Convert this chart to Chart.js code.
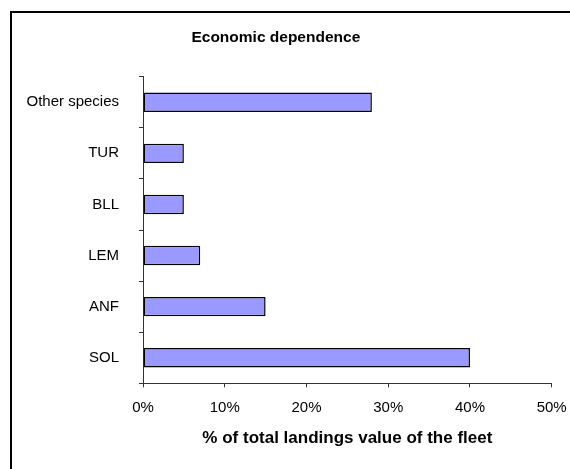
<!DOCTYPE html>
<html>
<head>
<meta charset="utf-8">
<script src="https://cdn.jsdelivr.net/npm/chart.js@4/dist/chart.umd.min.js"></script>
<style>
  body { margin: 0; background: #fff; }
  #wrap { position: relative; width: 570px; height: 469px; }
  #frame {
    position: absolute; left: 10px; top: 11px; right: -10px; bottom: -10px;
    border-left: 2px solid #000; border-top: 2px solid #000;
    pointer-events: none;
  }
</style>
</head>
<body>
<div id="wrap">
  <canvas id="chart"></canvas>
  <div id="frame"></div>
</div>
<script>
// Chart data
const categories = ['Other species', 'TUR', 'BLL', 'LEM', 'ANF', 'SOL'];
const shareValues = [28, 5, 5, 7, 15, 40];   // % of total landings value
const xTicks = [0, 10, 20, 30, 40, 50];

const font = 'Arial, "Liberation Sans", sans-serif';

const ctx = document.getElementById('chart').getContext('2d');
const chart = new Chart(ctx, {
  type: 'bar',
  data: {
    labels: categories,
    datasets: [{
      data: shareValues,
      backgroundColor: '#9999FF',
      borderColor: '#000',
      borderWidth: 1.5,
      borderSkipped: false,
      barPercentage: 0.38,
      categoryPercentage: 1
    }]
  },
  options: {
    indexAxis: 'y',
    responsive: true,
    maintainAspectRatio: false,
    animation: false,
    layout: { padding: { top: 18, right: 18.3, bottom: 0, left: 0 } },
    plugins: {
      legend: { display: false },
      tooltip: { enabled: false },
      title: {
        display: true,
        text: 'Economic dependence',
        color: '#000',
        font: { family: font, size: 15.5, weight: 'bold' },
        padding: { top: 10, bottom: 30.1 }
      }
    },
    scales: {
      x: {
        min: xTicks[0],
        max: xTicks[xTicks.length - 1],
        afterBuildTicks: (scale) => { scale.ticks = xTicks.map(v => ({ value: v })); },
        afterFit: (scale) => {
          scale.height = 85.7;
          scale.paddingLeft = 0;
          scale.paddingRight = 0;
        },
        ticks: {
          color: '#000',
          padding: 12,
          font: { family: font, size: 15 },
          callback: (v) => v + '%'
        },
        grid: { drawOnChartArea: false, drawTicks: true, tickLength: 4, color: '#333' },
        border: { display: true, color: '#333', width: 1 },
        title: {
          display: true,
          text: '% of total landings value of the fleet',
          color: '#000',
          font: { family: font, size: 17, weight: 'bold' },
          padding: { top: 0, bottom: 20.5 }
        }
      },
      y: {
        afterFit: (scale) => { scale.width = 143; },
        ticks: {
          color: '#000',
          padding: 20,
          font: { family: font, size: 15 }
        },
        grid: { drawOnChartArea: false, drawTicks: true, tickLength: 4, offset: true, color: '#333' },
        border: { display: true, color: '#333', width: 1 }
      }
    }
  }
});
</script>
</body>
</html>
